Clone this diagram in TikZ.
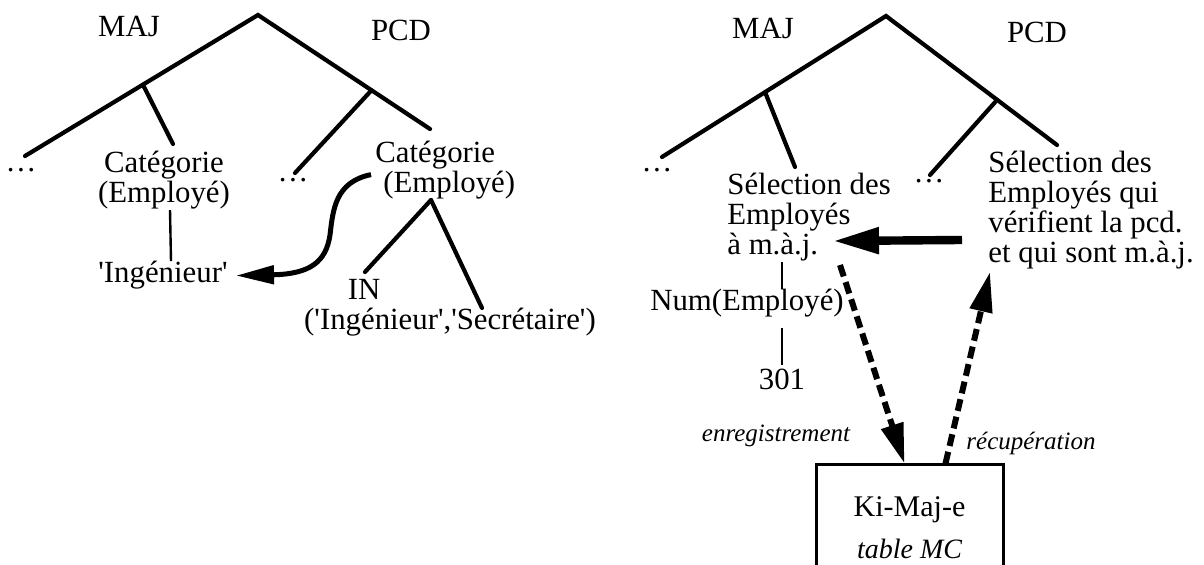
\documentclass[tikz,border=0pt]{standalone}
\usepackage{fontspec}
\setmainfont{Liberation Serif}
\usetikzlibrary{arrows.meta,calc}
\newcommand{\qt}{\textquotesingle}
\tikzset{
  lbl/.style={inner sep=0pt, anchor=base, font=\fontsize{15.4}{15}\selectfont},
  itlbl/.style={lbl, font=\fontsize{12.5}{14}\selectfont\itshape},
  branch/.style={line width=2.1pt, line cap=round},
  twig/.style={line width=1.2pt},
  heavy/.style={line width=4.2pt, -{Triangle[length=23pt, width=12.5pt]}},
  curly/.style={line width=2.5pt, -{Triangle[length=19pt, width=9pt]}},
  dashflow/.style={line width=3pt, dash pattern=on 6pt off 3pt,
                   -{Triangle[length=20pt, width=11pt]}},
}

\begin{document}
\begin{tikzpicture}[x=0.5pt, y=-0.5pt]
  \useasboundingbox (0,0) rectangle (1204,565);

  % left tree
  \coordinate (topL) at (258,15);
  \coordinate (endLL) at (25,156);
  \coordinate (endLR) at (430,129);
  \node[lbl] (majL) at (129,37) {MAJ};
  \node[lbl] (pcdL) at (401,41) {PCD};
  \node[lbl] (dotsL1) at (21,172) {\ldots};
  \node[lbl, align=center] (catL) at (164,203) {Catégorie\\(Employé)};
  \node[lbl] (dotsL2) at (293,182) {\ldots};
  \node[lbl, anchor=base west, align=left] (catR) at (375,193)
    {Catégorie\\\hspace*{4pt}(Employé)};
  \node[lbl] (ingL) at (163,283) {\qt Ingénieur\qt};
  \node[lbl] (inR) at (364,300) {IN};
  \node[lbl] (listR) at (450,330) {(\qt Ingénieur\qt,\qt Secrétaire\qt)};
  \coordinate (forkR) at (431,200);
  \coordinate (catLtop) at (173,144);
  \coordinate (dotsL2top) at (295,173);

  \draw[branch] (endLL) -- (topL) -- (endLR);
  \draw[branch] ($(topL)!0.494!(endLL)$) -- (catLtop);
  \draw[branch] ($(topL)!0.66!(endLR)$) -- (dotsL2top);
  \draw[twig] ([xshift=3pt]catL.south) -- ([xshift=4pt]ingL.north);
  \draw[branch] (forkR) -- (365,272);
  \draw[branch] (forkR) -- (482,308);
  \draw[curly] ([xshift=-2pt,yshift=-2pt]catR.west) .. controls (335,182) and (333,210) .. (330,235)
    .. controls (326,262) and (310,274) .. ([xshift=4pt]ingL.east);

  % right tree
  \coordinate (topR) at (886,16);
  \coordinate (endRL) at (662,157);
  \coordinate (endRR) at (1057,145);
  \node[lbl] (majR) at (763,39) {MAJ};
  \node[lbl] (pcdR) at (1037,43) {PCD};
  \node[lbl] (dotsR1) at (657,172) {\ldots};
  \node[lbl] (dotsR2) at (929,183) {\ldots};
  \node[lbl, anchor=base west, align=left] (selL) at (727,255)
    {Sélection des\\Employés\\à m.à.j.};
  \node[lbl, anchor=base west, align=left] (selR) at (988,263)
    {Sélection des\\Employés qui\\vérifient la pcd.\\et qui sont m.à.j.};
  \node[lbl] (numE) at (747,311) {Num(Employé)};
  \node[lbl] (val) at (782,390) {301};
  \node[itlbl] (enr) at (776,442) {enregistrement};
  \node[itlbl] (rec) at (1031,450) {récupération};
  \node[draw, line width=1.5pt, minimum width=93.5pt, minimum height=62.5pt,
        align=center, inner sep=0pt, font=\fontsize{15}{15}\selectfont]
    (kimaje) at (909.5,527.5)
    {Ki-Maj-e\\[6pt]{\fontsize{14}{14}\selectfont\itshape table MC}};
  \coordinate (selLtop) at (795,167);
  \coordinate (dotsR2top) at (930,175);
  \coordinate (hvS) at (962,240);
  \coordinate (hvE) at (833,241);
  \coordinate (dnS) at (840,265);
  \coordinate (upE) at (990,272);

  \draw[branch] (endRL) -- (topR) -- (endRR);
  \draw[branch] ($(topR)!0.54!(endRL)$) -- (selLtop);
  \draw[branch] ($(topR)!0.65!(endRR)$) -- (dotsR2top);
  \draw[twig] (val.north |- selL.south) -- (val.north |- numE.north);
  \draw[twig] ([yshift=-5pt]val.north |- numE.south) -- ([yshift=2pt]val.north);
  \draw[heavy] (hvS) -- (hvE);
  \draw[dashflow] (dnS) -- ([xshift=-2.5pt]kimaje.north);
  \draw[dashflow] ([xshift=18pt]kimaje.north) -- (upE);
\end{tikzpicture}
\end{document}
